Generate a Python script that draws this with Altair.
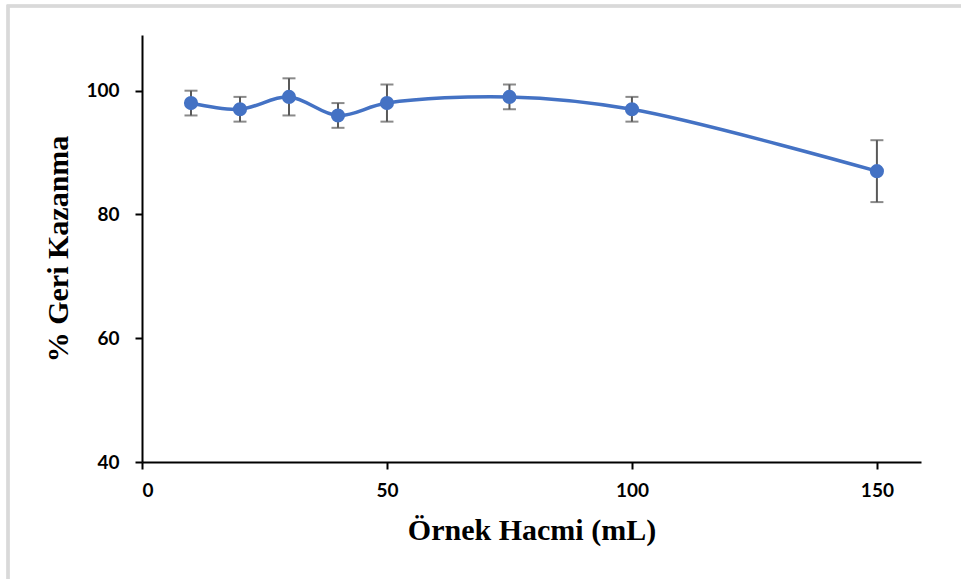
import altair as alt
import pandas as pd

volume = [10, 20, 30, 40, 50, 75, 100, 150]
recovery = [98, 97, 99, 96, 98, 99, 97, 87]
error = [2, 2, 3, 2, 3, 2, 2, 5]

x_ticks = [0, 50, 100, 150]
y_ticks = [40, 60, 80, 100]

df = pd.DataFrame({"volume": volume, "recovery": recovery, "err": error})
df["lo"] = df["recovery"] - df["err"]
df["hi"] = df["recovery"] + df["err"]

BLUE = "#4472C4"
GRAY = "#595959"

xs = alt.Scale(domain=[0, 159], nice=False, zero=False)
ys = alt.Scale(domain=[40, 109], nice=False, zero=False)

x_axis = alt.Axis(
    values=x_ticks, title="Örnek Hacmi (mL)", grid=False,
    labelFont="Lato", labelFontSize=19, labelFontWeight="bold", labelColor="black",
    titleFont="Liberation Serif", titleFontSize=30, titleFontWeight="bold", titleColor="black",
    domainColor="black", domainWidth=2, tickColor="black", tickWidth=2, tickSize=7,
    labelPadding=12, titlePadding=15,
)
y_axis = alt.Axis(
    values=y_ticks, title="% Geri Kazanma", grid=False,
    labelFont="Lato", labelFontSize=19, labelFontWeight="bold", labelColor="black",
    titleFont="Liberation Serif", titleFontSize=30, titleFontWeight="bold", titleColor="black",
    domainColor="black", domainWidth=2, tickColor="black", tickWidth=2, tickSize=7,
    labelPadding=16, titlePadding=12,
)

base = alt.Chart(df)

frame = base.mark_rect(fill=None, stroke="#d9d9d9", strokeWidth=2.5, clip=False).encode(
    x=alt.value(-134), x2=alt.value(830), y=alt.value(-29), y2=alt.value(550)
)

bars = base.mark_rule(color=GRAY, strokeWidth=2).encode(
    x=alt.X("volume:Q", scale=xs, axis=x_axis),
    y=alt.Y("lo:Q", scale=ys, axis=y_axis),
    y2="hi:Q",
)
cap_lo = base.mark_tick(color=GRAY, orient="horizontal", size=13, thickness=2).encode(
    x=alt.X("volume:Q", scale=xs), y=alt.Y("lo:Q", scale=ys)
)
cap_hi = base.mark_tick(color=GRAY, orient="horizontal", size=13, thickness=2).encode(
    x=alt.X("volume:Q", scale=xs), y=alt.Y("hi:Q", scale=ys)
)
line = base.mark_line(color=BLUE, strokeWidth=3.5, interpolate="catmull-rom").encode(
    x=alt.X("volume:Q", scale=xs), y=alt.Y("recovery:Q", scale=ys)
)
points = base.mark_circle(color=BLUE, size=200, opacity=1).encode(
    x=alt.X("volume:Q", scale=xs), y=alt.Y("recovery:Q", scale=ys)
)

chart = alt.layer(frame, bars, cap_lo, cap_hi, line, points).properties(
    width=779, height=427,
    autosize=alt.AutoSizeParams(type="none"),
    padding={"left": 142, "top": 35, "right": 40, "bottom": 117},
    background="white",
).configure_view(stroke=None)

chart.save("out.html", embed_options={"renderer": "svg", "actions": False})
